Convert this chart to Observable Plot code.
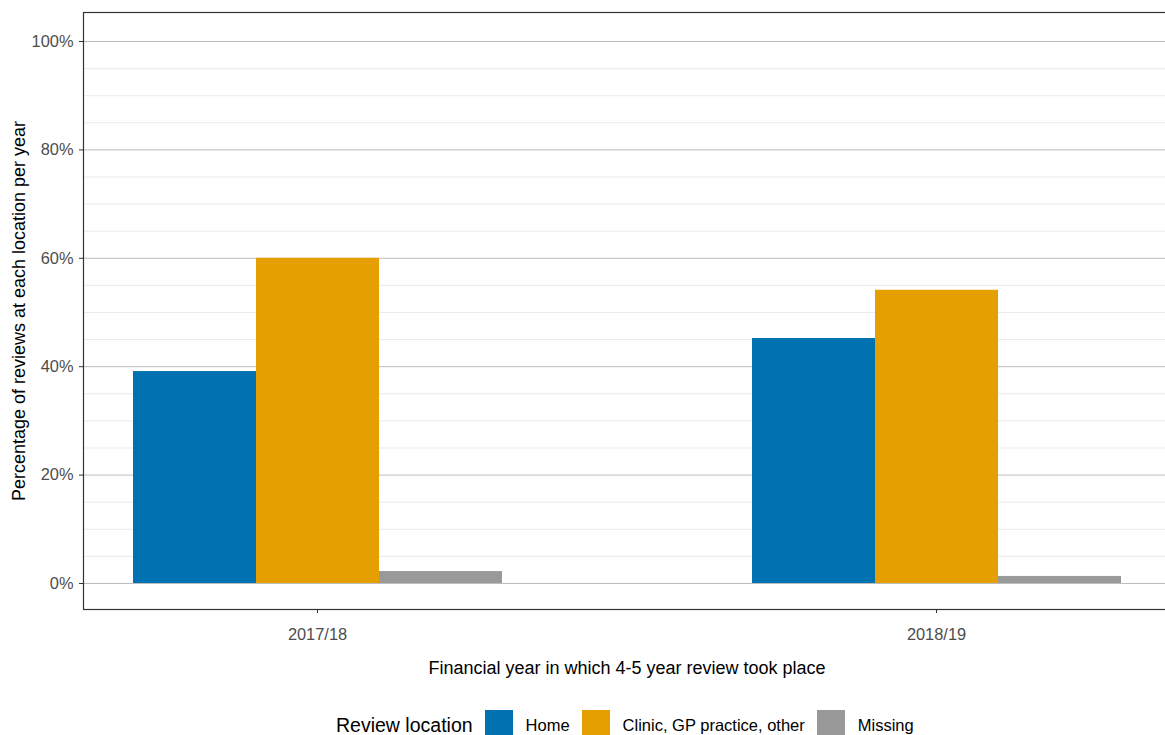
<!DOCTYPE html>
<html><head><meta charset="utf-8">
<script src="https://cdn.jsdelivr.net/npm/d3@7"></script>
<script src="https://cdn.jsdelivr.net/npm/@observablehq/plot@0.6"></script>
<style>
html,body{margin:0;padding:0;overflow:hidden;background:#fff;font-family:"Liberation Sans",Arial,sans-serif;}
#chart{position:relative;width:1172px;height:690px;}
#chart svg{display:block;position:absolute;left:0;top:0;}
#legend{position:relative;height:45px;}
#legend .row{position:absolute;left:336px;top:20px;height:28px;display:flex;align-items:center;white-space:nowrap;}
#legend .title{font-size:19.5px;color:#000;margin-right:12px;position:relative;top:1px;}
#legend .key{width:28px;height:28px;margin-right:13px;}
#legend .lab{font-size:16.5px;color:#000;margin-right:12px;position:relative;top:1px;}
</style></head><body>
<div id="chart"></div>
<div id="legend"></div>
<script>
const years = ["2017/18", "2018/19"];
const locations = ["Home", "Clinic, GP practice, other", "Missing"];
const homeValues = [39.1, 45.2];
const clinicValues = [60.0, 54.1];
const missingValues = [2.2, 1.3];
const colors = ["#0072B2", "#E69F00", "#999999"];
const yMajorTicks = [0, 20, 40, 60, 80, 100];
const yMinorTicks = [5, 10, 15, 25, 30, 35, 45, 50, 55, 65, 70, 75, 85, 90, 95];
const legendTitle = "Review location";
const xTitle = "Financial year in which 4-5 year review took place";
const yTitle = "Percentage of reviews at each location per year";

const series = [homeValues, clinicValues, missingValues];
const rows = [];
years.forEach((yr, i) => locations.forEach((loc, j) => rows.push({year: yr, location: loc, value: series[j][i]})));

const font = "Liberation Sans, Arial, sans-serif";
const common = {
  width: 1172, height: 690,
  marginLeft: 83, marginRight: 2, marginTop: 12, marginBottom: 81
};
const yScale = {domain: [-4.8, 105.35]};
const bandOpts = {type: "band", domain: years, paddingInner: 0.402, paddingOuter: 0.079};

// background layer: grid, axes, titles
const back = Plot.plot({
  ...common,
  style: {fontFamily: font, fontSize: "16.4px", color: "#4d4d4d", background: "#fff"},
  x: {...bandOpts, axis: null},
  y: {...yScale, axis: null},
  marks: [
    Plot.ruleY(yMinorTicks, {y: d => d, stroke: "#ebebeb", strokeWidth: 1}),
    Plot.ruleY(yMajorTicks, {y: d => d, stroke: "#bdbdbd", strokeWidth: 1}),
    Plot.axisY(yMajorTicks, {tickFormat: d => d + "%", tickSize: 4, tickPadding: 6, label: null, stroke: "#333", fill: "#4d4d4d", fontSize: 16.4}),
    Plot.axisX(years, {tickSize: 4, tickPadding: 15, label: null, stroke: "#333", fill: "#4d4d4d", fontSize: 16.4}),
    Plot.text([yTitle], {text: d => d, frameAnchor: "left", textAnchor: "middle", rotate: -90, dx: -64, fontSize: 18, fill: "#000"}),
    Plot.text([xTitle], {text: d => d, frameAnchor: "bottom", textAnchor: "middle", dy: 64, fontSize: 18, fill: "#000"})
  ]
});

// foreground layer: dodged bars via facets
const front = Plot.plot({
  ...common,
  style: {fontFamily: font, background: "transparent"},
  fx: {...bandOpts, axis: null, label: null},
  x: {domain: locations, padding: 0, axis: null},
  y: {...yScale, axis: null},
  color: {domain: locations, range: colors},
  marks: [
    Plot.barY(rows, {fx: "year", x: "location", y1: 0, y2: "value", fill: "location"})
  ]
});

// panel border on top
const frameLayer = Plot.plot({
  ...common,
  style: {background: "transparent"},
  x: {...bandOpts, axis: null},
  y: {...yScale, axis: null},
  marks: [Plot.frame({stroke: "#333", strokeWidth: 1.2})]
});

const c = document.getElementById("chart");
c.appendChild(back);
c.appendChild(front);
c.appendChild(frameLayer);

const row = d3.select("#legend").append("div").attr("class", "row");
row.append("span").attr("class", "title").text(legendTitle);
locations.forEach((loc, i) => {
  row.append("span").attr("class", "key").style("background", colors[i]);
  row.append("span").attr("class", "lab").text(loc);
});
</script>
</body></html>
